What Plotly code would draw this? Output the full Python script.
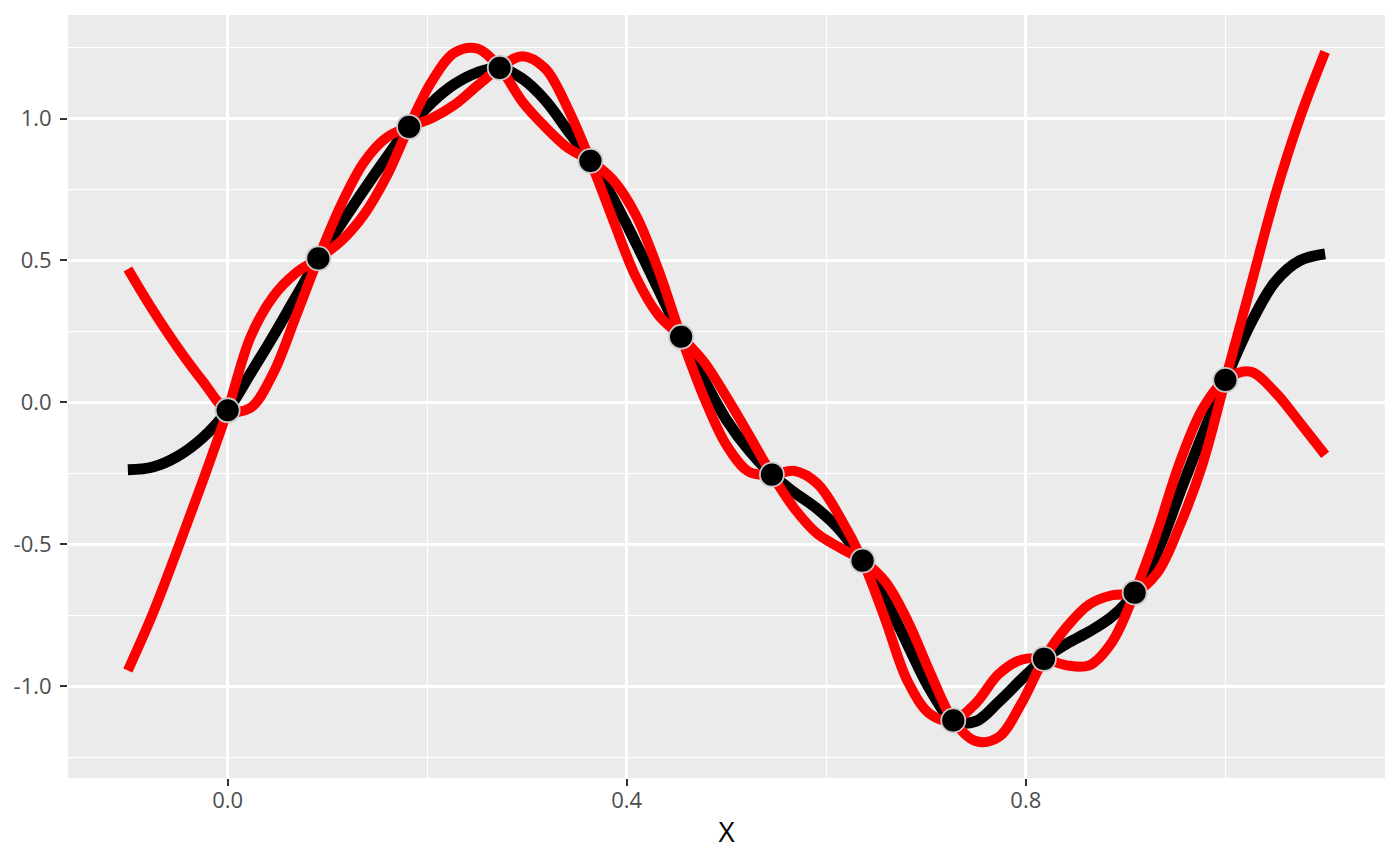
import plotly.graph_objects as go

# ---- data ----
x_obs = [0.0, 0.0909, 0.1818, 0.2727, 0.3636, 0.4545, 0.5455, 0.6364, 0.7273, 0.8182, 0.9091, 1.0]
y_obs = [-0.028, 0.507, 0.971, 1.179, 0.851, 0.231, -0.255, -0.558, -1.121, -0.904, -0.671, 0.079]

x_curve = [-0.1, -0.075, -0.05, -0.025, 0.0, 0.0227, 0.0455, 0.0682, 0.0909, 0.1136, 0.1364, 0.1591,
           0.1818, 0.2045, 0.2273, 0.25, 0.2727, 0.2955, 0.3182, 0.3409, 0.3636, 0.3864, 0.4091, 0.4318,
           0.4545, 0.4773, 0.5, 0.5227, 0.5455, 0.5682, 0.5909, 0.6136, 0.6364, 0.6591, 0.6818, 0.7045,
           0.7273, 0.75, 0.7727, 0.7955, 0.8182, 0.8409, 0.8636, 0.8864, 0.9091, 0.9318, 0.9545, 0.9773,
           1.0, 1.025, 1.05, 1.075, 1.1]

y_black = [-0.238, -0.228, -0.190, -0.125, -0.028, 0.100, 0.232, 0.370, 0.507, 0.628, 0.748, 0.862,
           0.971, 1.056, 1.121, 1.162, 1.179, 1.140, 1.065, 0.958, 0.851, 0.718, 0.562, 0.398,
           0.231, 0.080, -0.062, -0.170, -0.255, -0.318, -0.375, -0.450, -0.558, -0.693, -0.856, -1.015,
           -1.121, -1.124, -1.056, -0.977, -0.904, -0.851, -0.808, -0.755, -0.671, -0.527, -0.318, -0.112,
           0.079, 0.275, 0.425, 0.500, 0.523]

y_red_a = [0.470, 0.325, 0.193, 0.075, -0.028, -0.020, 0.101, 0.301, 0.507, 0.695, 0.845, 0.932,
           0.971, 1.001, 1.048, 1.115, 1.179, 1.220, 1.177, 1.036, 0.851, 0.642, 0.442, 0.307,
           0.231, 0.143, 0.019, -0.116, -0.255, -0.375, -0.463, -0.512, -0.558, -0.632, -0.772, -0.956,
           -1.121, -1.194, -1.180, -1.062, -0.904, -0.792, -0.712, -0.680, -0.671, -0.601, -0.433, -0.216,
           0.079, 0.404, 0.730, 1.005, 1.235]

y_red_b = [-0.945, -0.745, -0.516, -0.278, -0.028, 0.228, 0.372, 0.455, 0.507, 0.568, 0.660, 0.795,
           0.971, 1.130, 1.232, 1.247, 1.179, 1.059, 0.971, 0.897, 0.851, 0.783, 0.660, 0.466,
           0.231, 0.019, -0.151, -0.245, -0.255, -0.242, -0.286, -0.404, -0.558, -0.765, -0.985, -1.100,
           -1.121, -1.060, -0.958, -0.907, -0.904, -0.927, -0.927, -0.845, -0.671, -0.455, -0.210, -0.022,
           0.079, 0.108, 0.035, -0.073, -0.185]

x_tick_vals = [0.0, 0.4, 0.8]
x_tick_text = ["0.0", "0.4", "0.8"]
x_minor_vals = [0.2, 0.6, 1.0]
y_tick_vals = [-1.0, -0.5, 0.0, 0.5, 1.0]
y_tick_text = ["-1.0", "-0.5", "0.0", "0.5", "1.0"]
y_minor_vals = [-1.25, -0.75, -0.25, 0.25, 0.75, 1.25]

FONT = "Open Sans"

fig = go.Figure()
fig.add_trace(go.Scatter(x=x_curve, y=y_black, mode="lines",
                         line=dict(color="black", width=11, shape="spline", smoothing=1.0),
                         hoverinfo="skip", showlegend=False))
fig.add_trace(go.Scatter(x=x_curve, y=y_red_a, mode="lines",
                         line=dict(color="#FF0000", width=10, shape="spline", smoothing=1.0),
                         hoverinfo="skip", showlegend=False))
fig.add_trace(go.Scatter(x=x_curve, y=y_red_b, mode="lines",
                         line=dict(color="#FF0000", width=10, shape="spline", smoothing=1.0),
                         hoverinfo="skip", showlegend=False))
fig.add_trace(go.Scatter(x=x_obs, y=y_obs, mode="markers",
                         marker=dict(color="black", size=24, line=dict(color="#C8C8C8", width=1.8)),
                         showlegend=False))

# page body has an 8px default margin: figure sized/margined so the panel lands at (68,15)-(1385,778)
fig.update_layout(
    width=1392, height=858, autosize=False,
    margin=dict(l=60, r=15, t=7, b=88, autoexpand=False),
    paper_bgcolor="white", plot_bgcolor="#EBEBEB",
    font=dict(family=FONT),
    showlegend=False,
)
fig.update_xaxes(
    range=[-0.16, 1.16], zeroline=False, showline=False, automargin=False,
    tickmode="array", tickvals=x_tick_vals, ticktext=x_tick_text,
    ticks="outside", ticklen=7, tickwidth=2.2, tickcolor="#333333",
    tickfont=dict(family=FONT, size=22, color="#4D4D4D"),
    ticklabelstandoff=-4,
    showgrid=True, gridcolor="white", gridwidth=2.8,
    minor=dict(tickmode="array", tickvals=x_minor_vals, showgrid=True, gridcolor="white", gridwidth=1.4, ticks=""),
    title=dict(text="X", font=dict(family=FONT, size=28, color="black"), standoff=8),
)
fig.update_yaxes(
    range=[-1.324, 1.365], zeroline=False, showline=False, automargin=False,
    tickmode="array", tickvals=y_tick_vals, ticktext=y_tick_text,
    ticks="outside", ticklen=7, tickwidth=2.2, tickcolor="#333333",
    tickfont=dict(family=FONT, size=22, color="#4D4D4D"),
    ticklabelstandoff=4,
    showgrid=True, gridcolor="white", gridwidth=2.8,
    minor=dict(tickmode="array", tickvals=y_minor_vals, showgrid=True, gridcolor="white", gridwidth=1.4, ticks=""),
)

fig.write_html("out.html")
